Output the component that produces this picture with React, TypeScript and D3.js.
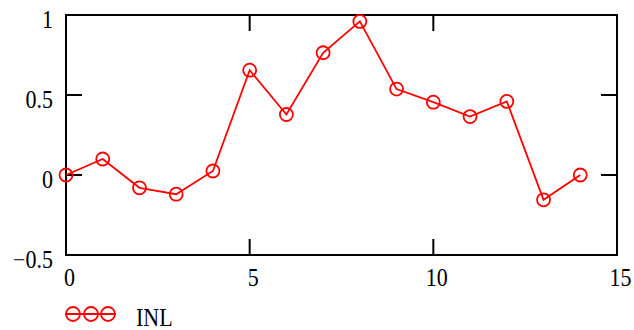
import React from "react";
import * as d3 from "d3";

const xValues = [0, 1, 2, 3, 4, 5, 6, 7, 8, 9, 10, 11, 12, 13, 14];
const inlValues = [0, 0.1, -0.08, -0.12, 0.025, 0.655, 0.378, 0.764, 0.96, 0.537, 0.455, 0.365, 0.46, -0.155, 0];
const xTicks = [0, 5, 10, 15];
const yTicks = [-0.5, 0, 0.5, 1];
const yTickLabels = ["\u22120.5", "0", "0.5", "1"];
const seriesName = "INL";

export default function App() {
  const W = 634, H = 330;
  const left = 66, right = 617, top = 15, bottom = 255;
  const x = d3.scaleLinear().domain([0, 15]).range([left, right]);
  const y = d3.scaleLinear().domain([-0.5, 1]).range([bottom, top]);
  const line = d3.line<number>().x((_, i) => x(xValues[i])).y((d) => y(d));
  const red = "#ff0000";
  const textStyle = { fontFamily: "Liberation Serif", fontSize: 22 };
  const tickLen = 16;
  const stretch = (bx: number, by: number) => `translate(${bx},${by}) scale(1,1.1)`;
  return (
    <svg width={W} height={H} style={{ position: "absolute", left: 0, top: 0, background: "#fff" }}>
      <rect x={left} y={top} width={right - left} height={bottom - top} fill="none" stroke="#000" strokeWidth={2} />
      {xTicks.slice(1, -1).map((t) => (
        <g key={"xt" + t}>
          <line x1={x(t)} x2={x(t)} y1={bottom} y2={bottom - tickLen} stroke="#000" strokeWidth={2} />
          <line x1={x(t)} x2={x(t)} y1={top} y2={top + tickLen} stroke="#000" strokeWidth={2} />
        </g>
      ))}
      {yTicks.slice(1, -1).map((t) => (
        <g key={"yt" + t}>
          <line x1={left} x2={left + tickLen} y1={y(t)} y2={y(t)} stroke="#000" strokeWidth={2} />
          <line x1={right} x2={right - tickLen} y1={y(t)} y2={y(t)} stroke="#000" strokeWidth={2} />
        </g>
      ))}
      {xTicks.map((t) => (
        <text key={"xl" + t} transform={stretch(x(t) + 3.5, 286)} textAnchor="middle" style={textStyle}>
          {t}
        </text>
      ))}
      {yTicks.map((t, i) => (
        <text key={"yl" + t} transform={stretch(53, y(t) + 13)} textAnchor="end" style={textStyle}>
          {yTickLabels[i]}
        </text>
      ))}
      <path d={line(inlValues) || ""} fill="none" stroke={red} strokeWidth={1.8} />
      {inlValues.map((v, i) => (
        <circle key={"p" + i} cx={x(xValues[i])} cy={y(v)} r={6.5} fill="none" stroke={red} strokeWidth={1.8} />
      ))}
      <g>
        <line x1={65} x2={116} y1={314} y2={314} stroke={red} strokeWidth={1.8} />
        {[73, 91, 108].map((cx) => (
          <circle key={"lc" + cx} cx={cx} cy={314} r={7} fill="none" stroke={red} strokeWidth={1.8} />
        ))}
        <text transform={stretch(136, 326)} style={textStyle}>
          {seriesName}
        </text>
      </g>
    </svg>
  );
}
